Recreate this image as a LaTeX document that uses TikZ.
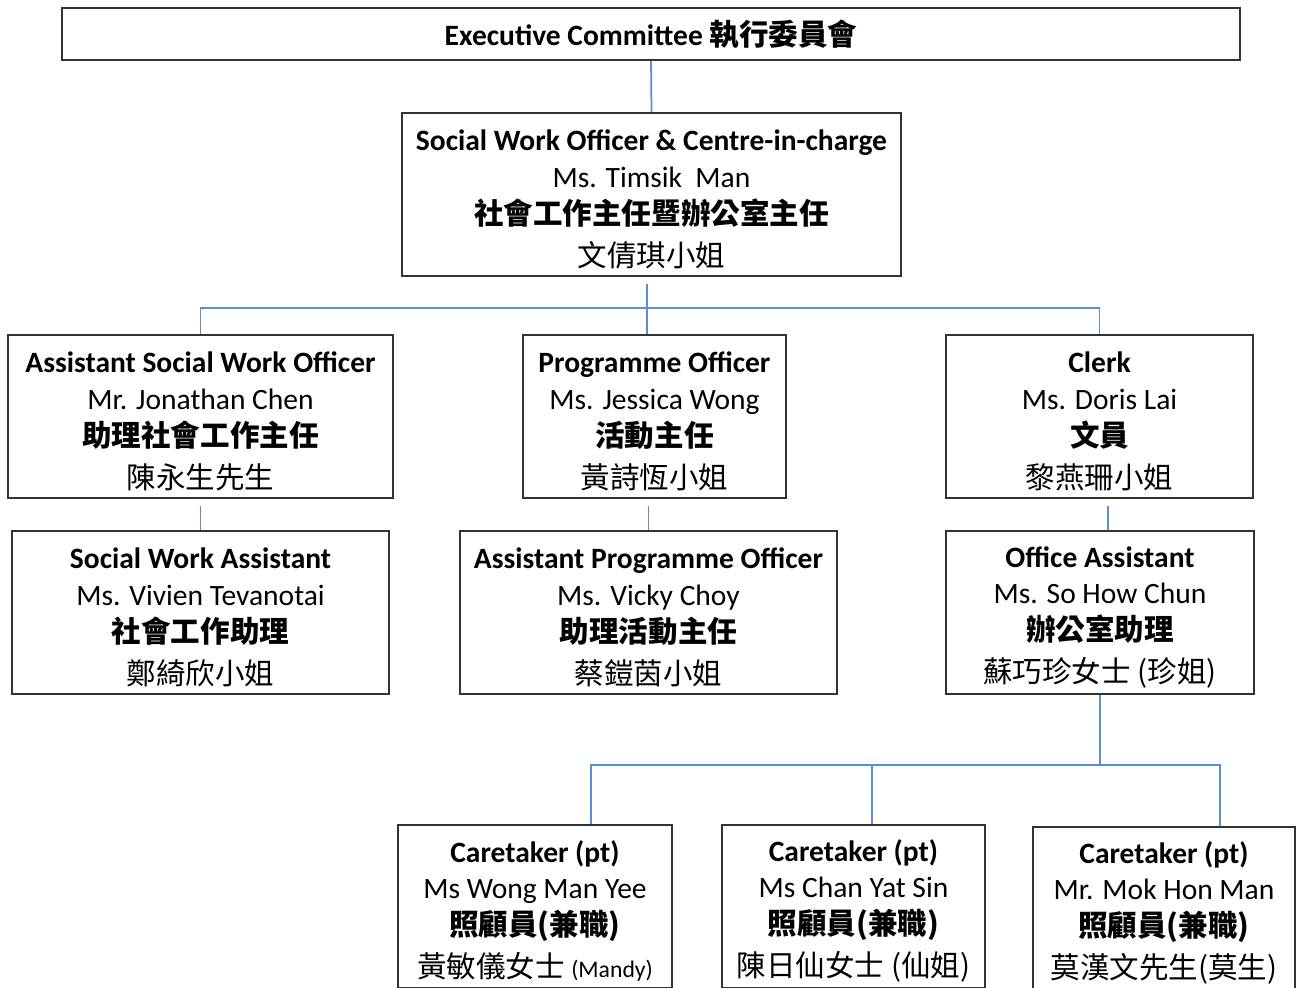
\documentclass[tikz,border=0pt]{standalone}
\usepackage{fontspec}
\setmainfont{Carlito}
\newfontfamily\cjk{Noto Sans CJK TC}
\usetikzlibrary{calc}
\definecolor{linkblue}{HTML}{5B8FD0}
\definecolor{boxgray}{HTML}{333333}
\newcommand{\card}[4]{\rule{0pt}{17.5pt}{\bfseries #1}\\#2\\[0pt]{\cjk\bfseries #3}\\[3pt]{\cjk #4}}
\begin{document}
\begin{tikzpicture}[x=0.02cm,y=-0.02cm,
  box/.style={draw=boxgray,line width=0.9pt,inner sep=0pt,align=center,
    font=\fontsize{16.8}{21}\selectfont,minimum height=3.26cm},
  conn/.style={draw=linkblue,line width=1pt}]
\useasboundingbox (0,0) rectangle (1300,987);
\clip (0,0) rectangle (1300,987);
\fill[white] (0,0) rectangle (1300,987);

\node[box,minimum width=23.56cm,minimum height=1.04cm] (exec) at (651,34)
  {{\bfseries Executive Committee} {\cjk\bfseries 執行委員會}};
\node[box,minimum width=9.98cm] (swo) at (651.5,194.5)
  {\card{Social Work Officer \& Centre-in-charge}{Ms. Timsik\ \ Man}{社會工作主任暨辦公室主任}{文倩琪小姐}};

\node[box,minimum width=7.7cm] (aswo) at (200.5,416.5)
  {\card{Assistant Social Work Officer}{Mr. Jonathan Chen}{助理社會工作主任}{陳永生先生}};
\node[box,minimum width=5.26cm] (po) at (654.5,416.5)
  {\card{Programme Officer}{Ms. Jessica Wong}{活動主任}{黃詩恆小姐}};
\node[box,minimum width=6.14cm] (clerk) at (1099.5,416.5)
  {\card{Clerk}{Ms. Doris Lai}{文員}{黎燕珊小姐}};

\node[box,minimum width=7.54cm] (swa) at (200.5,612.5)
  {\card{Social Work Assistant}{Ms. Vivien Tevanotai}{社會工作助理}{鄭綺欣小姐}};
\node[box,minimum width=7.54cm] (apo) at (648.5,612.5)
  {\card{Assistant Programme Officer}{Ms. Vicky Choy}{助理活動主任}{蔡鎧茵小姐}};
\node[box,minimum width=6.16cm] (oa) at (1100,612.5)
  {\card{Office Assistant}{Ms. So How Chun}{辦公室助理}{蘇巧珍女士 (珍姐)}};

\node[box,minimum width=5.48cm] (ct1) at (535,906.5)
  {\card{Caretaker (pt)}{Ms Wong Man Yee}{照顧員(兼職)}{黃敏儀女士 {\rmfamily\fontsize{13.5}{21}\selectfont (Mandy)}}};
\node[box,minimum width=5.26cm] (ct2) at (853.5,906.5)
  {\card{Caretaker (pt)}{Ms Chan Yat Sin}{照顧員(兼職)}{陳日仙女士 (仙姐)}};
\node[box,minimum width=5.24cm] (ct3) at (1164,908.5)
  {\card{Caretaker (pt)}{Mr. Mok Hon Man}{照顧員(兼職)}{莫漢文先生(莫生)}};

% connectors
\draw[conn] (exec.south) -- (swo.north);
\coordinate (bus1) at (647,308);
\draw[conn,shorten <=0.14cm] (swo.south -| bus1) -- (bus1);
\draw[conn] (aswo.north) |- (bus1) -| (clerk.north);
\draw[conn] (bus1) -- (bus1 |- po.north);
\draw[conn,shorten <=0.14cm] (aswo.south) -- (swa.north);
\draw[conn,shorten <=0.14cm] (apo.north |- po.south) -- (apo.north);
\draw[conn,shorten <=0.14cm] ([xshift=0.16cm]oa.north |- clerk.south) -- ([xshift=0.16cm]oa.north);

\coordinate (bus2) at (1101,765);
\draw[conn] (bus2 -| oa.south) -- (oa.south);
\draw[conn] ([xshift=1.12cm]ct1.north) |- (bus2) -| ([xshift=1.12cm]ct3.north);
\draw[conn] ([xshift=0.37cm]ct2.north |- bus2) -- ([xshift=0.37cm]ct2.north);
\end{tikzpicture}
\end{document}
